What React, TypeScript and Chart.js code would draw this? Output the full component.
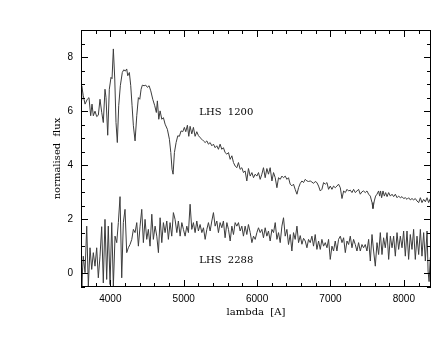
import React, { useEffect, useRef } from 'react';
import { Chart, registerables } from 'chart.js';

Chart.register(...registerables);

// LHS 1200 spectrum (wavelength in Angstrom, normalised flux)
const lambda1200 = [
  3600, 3610, 3631, 3655, 3686, 3709, 3732, 3750, 3768, 3791,
  3814, 3836, 3859, 3882, 3904, 3927, 3941, 3964, 3986, 4009,
  4023, 4041, 4060, 4077, 4095, 4114, 4136, 4163, 4183, 4204,
  4223, 4237, 4259, 4278, 4296, 4314, 4337, 4360, 4382, 4401,
  4419, 4436, 4460, 4483, 4505, 4528, 4551, 4578, 4605, 4627,
  4641, 4660, 4678, 4701, 4723, 4746, 4777, 4805, 4824, 4841,
  4855, 4873, 4896, 4919, 4941, 4964, 4987, 5009, 5028, 5050,
  5069, 5087, 5110, 5132, 5155, 5178, 5200, 5223, 5247, 5269,
  5292, 5315, 5337, 5360, 5383, 5405, 5428, 5451, 5473, 5496,
  5519, 5541, 5564, 5588, 5610, 5633, 5656, 5678, 5701, 5724,
  5746, 5769, 5792, 5814, 5837, 5860, 5882, 5906, 5929, 5951,
  5974, 5997, 6019, 6042, 6065, 6087, 6110, 6133, 6155, 6178,
  6202, 6224, 6247, 6270, 6292, 6315, 6338, 6360, 6383, 6406,
  6428, 6451, 6474, 6496, 6519, 6543, 6565, 6588, 6611, 6633,
  6656, 6679, 6701, 6724, 6747, 6769, 6792, 6815, 6838, 6861,
  6883, 6906, 6929, 6952, 6974, 6997, 7020, 7042, 7065, 7088,
  7110, 7134, 7157, 7179, 7202, 7225, 7247, 7270, 7293, 7315,
  7338, 7361, 7383, 7406, 7429, 7451, 7474, 7497, 7520, 7543,
  7566, 7579, 7597, 7615, 7634, 7656, 7670, 7683, 7697, 7716,
  7734, 7752, 7771, 7793, 7816, 7839, 7861, 7884, 7907, 7929,
  7952, 7975, 7997, 8020, 8043, 8065, 8088, 8111, 8133, 8156,
  8179, 8202, 8225, 8247, 8270, 8293, 8316, 8338, 8361,
];
const flux1200 = [
  6.4, 6.94, 6.57, 6.26, 6.44, 6.5, 5.83, 6.26, 5.83, 6.0,
  5.8, 5.85, 6.44, 5.96, 5.58, 6.81, 6.5, 5.11, 6.81, 7.25,
  7.2, 8.3, 7.19, 5.58, 4.84, 6.2, 6.94, 7.43, 7.53, 7.48,
  7.56, 7.31, 7.43, 6.94, 6.2, 5.46, 4.9, 5.83, 6.5, 6.44,
  6.81, 6.96, 6.94, 6.96, 6.88, 6.94, 6.75, 6.44, 6.2, 5.95,
  6.38, 5.7, 6.01, 5.7, 5.76, 5.52, 5.33, 4.96, 4.47, 3.85,
  3.67, 4.47, 4.84, 5.09, 5.07, 5.27, 5.24, 5.4, 5.24, 5.48,
  5.07, 5.44, 5.16, 5.4, 5.07, 5.24, 5.1, 5.02, 4.96, 4.9,
  4.84, 4.9, 4.78, 4.84, 4.72, 4.78, 4.65, 4.72, 4.59, 4.78,
  4.59, 4.65, 4.47, 4.41, 4.47, 4.22, 4.35, 4.1, 3.97, 3.91,
  4.1, 3.85, 3.91, 3.73, 3.79, 3.42, 3.88, 3.6, 3.73, 3.54,
  3.67, 3.6, 3.73, 3.48, 3.67, 3.91, 3.54, 3.88, 3.67, 3.91,
  3.42, 3.73, 3.54, 3.17, 3.54, 3.48, 3.6, 3.54, 3.6, 3.48,
  3.54, 3.3, 3.24, 3.3, 3.11, 2.93, 3.17, 3.33, 3.42, 3.36,
  3.48, 3.42, 3.4, 3.42, 3.38, 3.33, 3.4, 3.36, 3.23, 3.05,
  3.11, 3.36, 3.3, 3.36, 3.11, 3.23, 3.11, 3.23, 3.17, 3.23,
  3.3, 3.17, 2.77, 3.05, 2.99, 3.11, 3.05, 3.08, 2.99, 3.11,
  2.99, 3.05, 3.11, 2.93, 3.02, 3.05, 2.99, 3.05, 2.93, 2.86,
  2.62, 2.4, 2.68, 2.86, 2.93, 3.05, 2.86, 3.05, 2.8, 3.05,
  2.86, 2.99, 2.84, 2.99, 2.86, 2.93, 2.84, 2.93, 2.8, 2.86,
  2.8, 2.84, 2.77, 2.8, 2.74, 2.8, 2.72, 2.77, 2.72, 2.77,
  2.68, 2.62, 2.8, 2.62, 2.74, 2.65, 2.8, 2.62, 2.77,
];

// LHS 2288 spectrum
const lambda2288 = [
  3600, 3610, 3631, 3655, 3678, 3700, 3723, 3746, 3768, 3791,
  3814, 3836, 3859, 3882, 3904, 3927, 3950, 3972, 3996, 4019,
  4041, 4064, 4087, 4109, 4132, 4155, 4177, 4200, 4223, 4245,
  4268, 4292, 4314, 4337, 4360, 4382, 4405, 4428, 4450, 4473,
  4496, 4518, 4541, 4565, 4586, 4610, 4633, 4655, 4678, 4701,
  4723, 4746, 4769, 4791, 4814, 4837, 4859, 4882, 4906, 4927,
  4951, 4974, 4996, 5019, 5042, 5064, 5087, 5110, 5132, 5155,
  5178, 5200, 5223, 5247, 5269, 5292, 5315, 5337, 5360, 5383,
  5405, 5428, 5451, 5473, 5496, 5519, 5541, 5564, 5588, 5610,
  5633, 5656, 5678, 5701, 5724, 5746, 5769, 5792, 5814, 5837,
  5860, 5882, 5906, 5929, 5951, 5974, 5997, 6019, 6042, 6065,
  6087, 6110, 6133, 6155, 6178, 6202, 6224, 6247, 6270, 6292,
  6315, 6338, 6360, 6383, 6406, 6428, 6451, 6474, 6496, 6519,
  6543, 6565, 6588, 6611, 6633, 6656, 6679, 6701, 6724, 6747,
  6769, 6792, 6815, 6838, 6861, 6883, 6906, 6929, 6952, 6974,
  6997, 7020, 7042, 7065, 7088, 7110, 7134, 7157, 7179, 7202,
  7225, 7247, 7270, 7293, 7315, 7338, 7361, 7383, 7406, 7429,
  7451, 7474, 7497, 7520, 7543, 7566, 7588, 7611, 7634, 7656,
  7679, 7702, 7724, 7747, 7771, 7793, 7816, 7839, 7861, 7884,
  7907, 7929, 7952, 7975, 7997, 8020, 8043, 8065, 8088, 8111,
  8133, 8156, 8179, 8202, 8225, 8247, 8270, 8293, 8316, 8330,
  8344, 8361,
];
const flux2288 = [
  0.2, -0.47, 0.64, 0.03, 1.75, -0.47, 0.95, 0.15, 0.77, 0.27,
  0.95, -0.16, 0.64, 1.73, -0.35, 2.0, -0.22, 1.75, -0.41, 1.88,
  -0.47, 1.38, 1.14, 1.88, 2.84, -0.16, 1.88, 2.37, 0.77, 0.95,
  1.07, 1.26, 1.63, 1.51, 1.88, 1.01, 1.75, 2.37, 1.14, 2.0,
  1.26, 1.63, 1.01, 2.19, 1.26, 1.75, 1.38, 0.77, 2.06, 1.14,
  1.88, 1.51, 1.94, 1.26, 1.88, 1.38, 2.25, 2.0, 1.51, 1.94,
  1.38, 1.88, 1.63, 1.38, 1.75, 1.51, 2.56, 1.63, 1.88, 1.51,
  1.94, 1.57, 1.81, 1.51, 1.69, 1.26, 1.63, 1.88, 1.57, 1.94,
  2.25, 1.75, 1.94, 1.51, 1.88, 1.69, 1.94, 1.32, 1.88, 1.63,
  1.2, 1.75, 1.44, 1.88, 1.75, 1.88, 1.57, 1.75, 1.38, 1.75,
  1.44, 1.81, 1.51, 1.14, 1.38, 1.26, 1.51, 1.69, 1.51, 1.63,
  1.32, 1.69, 1.38, 1.57, 1.2, 1.63, 1.51, 1.88, 1.26, 1.51,
  1.14, 1.75, 2.06, 1.38, 1.63, 1.07, 1.44, 0.83, 1.51, 1.26,
  1.75, 1.14, 1.4, 1.08, 1.3, 1.2, 0.95, 1.26, 1.14, 1.38,
  1.01, 1.44, 0.89, 1.2, 0.89, 1.26, 1.01, 1.14, 0.95, 1.26,
  0.52, 1.01, 0.83, 1.2, 0.83, 1.26, 1.38, 1.14, 1.32, 0.77,
  1.2, 1.07, 1.38, 0.95, 1.26, 1.07, 0.83, 1.14, 0.83, 1.07,
  0.95, 1.07, 0.83, 1.26, 0.46, 1.44, 0.83, 0.27, 1.14, 0.7,
  1.51, 0.7, 1.32, 0.95, 1.51, 0.52, 1.38, 0.95, 1.38, 0.64,
  1.51, 0.89, 1.38, 0.95, 1.57, 0.64, 1.57, 0.52, 1.44, 0.89,
  1.63, 0.52, 1.38, 0.7, 1.63, 0.64, 1.51, 0.46, 1.57, 0.09,
  -0.3, 0.6,
];

const xRange = [3600, 8370];
const yRange = [-0.5, 9];
const xTickValues = [4000, 5000, 6000, 7000, 8000];
const yTickValues = [0, 2, 4, 6, 8];
const spectrumNames = ['LHS  1200', 'LHS  2288'];
const nameLambda = [5580, 5580];
const nameFlux = [5.95, 0.48];
const xTitle = 'lambda  [A]';
const yTitle = 'normalised  flux';

const framePlugin = {
  id: 'frameTicks',
  afterDraw(chart: any) {
    const { ctx, chartArea: a, scales } = chart;
    const xs = scales.x;
    const ys = scales.y;
    ctx.save();
    ctx.strokeStyle = '#000';
    ctx.lineWidth = 1;
    ctx.strokeRect(a.left + 0.5, a.top + 0.5, a.right - a.left - 1, a.bottom - a.top - 1);
    ctx.beginPath();
    for (let i = 18; i <= 42; i++) {
      const v = i * 200;
      if (v < xRange[0] || v > xRange[1]) continue;
      const px = Math.round(xs.getPixelForValue(v)) + 0.5;
      const len = v % 1000 === 0 ? 7 : 4;
      ctx.moveTo(px, a.bottom);
      ctx.lineTo(px, a.bottom - len);
      ctx.moveTo(px, a.top);
      ctx.lineTo(px, a.top + len);
    }
    for (let i = -1; i <= 18; i++) {
      const v = i * 0.5;
      const py = Math.round(ys.getPixelForValue(v)) + 0.5;
      const len = i % 4 === 0 ? 7 : 4;
      ctx.moveTo(a.left, py);
      ctx.lineTo(a.left + len, py);
      ctx.moveTo(a.right, py);
      ctx.lineTo(a.right - len, py);
    }
    ctx.stroke();

    ctx.fillStyle = '#000';
    ctx.font = '10px "DejaVu Serif"';
    ctx.textAlign = 'center';
    ctx.textBaseline = 'middle';
    for (let k = 0; k < spectrumNames.length; k++) {
      ctx.fillText(spectrumNames[k], xs.getPixelForValue(nameLambda[k]), ys.getPixelForValue(nameFlux[k]));
    }
    ctx.fillText(xTitle, (a.left + a.right) / 2, a.bottom + 25);
    ctx.translate(57, (a.top + a.bottom) / 2);
    ctx.rotate(-Math.PI / 2);
    ctx.fillText(yTitle, 0, 0);
    ctx.restore();
  },
};

export default function App() {
  const canvasRef = useRef<HTMLCanvasElement | null>(null);

  useEffect(() => {
    if (!canvasRef.current) return;
    const tickFont = { family: '"Liberation Sans", Arial, sans-serif', size: 10 };
    const chart = new Chart(canvasRef.current, {
      type: 'line',
      data: {
        datasets: [
          {
            label: 'LHS 1200',
            data: lambda1200.map((x, i) => ({ x, y: flux1200[i] })),
            borderColor: '#3c3c3c',
            borderWidth: 1,
            pointRadius: 0,
            tension: 0,
          },
          {
            label: 'LHS 2288',
            data: lambda2288.map((x, i) => ({ x, y: flux2288[i] })),
            borderColor: '#3c3c3c',
            borderWidth: 1,
            pointRadius: 0,
            tension: 0,
          },
        ],
      },
      options: {
        animation: false,
        responsive: true,
        maintainAspectRatio: false,
        layout: { padding: { top: 30, right: 13, left: 0, bottom: 0 } },
        plugins: { legend: { display: false }, tooltip: { enabled: false } },
        scales: {
          x: {
            type: 'linear',
            min: xRange[0],
            max: xRange[1],
            grid: { display: false, drawTicks: false },
            border: { display: false },
            afterBuildTicks: (s: any) => {
              s.ticks = xTickValues.map((v) => ({ value: v }));
            },
            afterFit: (s: any) => {
              s.height = 56;
            },
            ticks: {
              padding: 6,
              color: '#000',
              font: tickFont,
              maxRotation: 0,
              autoSkip: false,
              callback: (v: any) => String(v),
            },
          },
          y: {
            type: 'linear',
            min: yRange[0],
            max: yRange[1],
            grid: { display: false, drawTicks: false },
            border: { display: false },
            afterBuildTicks: (s: any) => {
              s.ticks = yTickValues.map((v) => ({ value: v }));
            },
            afterFit: (s: any) => {
              s.width = 81;
            },
            ticks: {
              padding: 8,
              color: '#000',
              font: tickFont,
              autoSkip: false,
              callback: (v: any) => String(v),
            },
          },
        },
      },
      plugins: [framePlugin],
    } as any);
    return () => chart.destroy();
  }, []);

  return (
    <div style={{ position: 'absolute', left: 0, top: 0, width: 444, height: 343, background: '#fff' }}>
      <canvas ref={canvasRef} />
    </div>
  );
}
